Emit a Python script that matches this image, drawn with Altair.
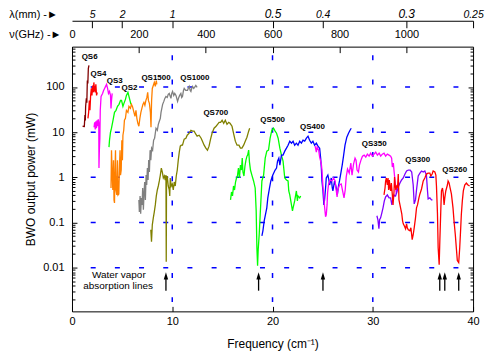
import altair as alt
import pandas as pd

FONT = "Liberation Sans"
X_MIN, X_MAX = 0, 40
Y_MIN, Y_MAX = 0.00108, 780

# ---- series (frequency cm-1, power mW) ----
QS6_X = [1.06, 1.23, 1.29, 1.33, 1.36, 1.43, 1.48, 1.53, 1.58, 1.63, 1.69]
QS6_Y = [13.5, 13.3, 24, 18, 37, 56, 45, 139, 120, 255, 300]

QS4_X = [1.59, 1.66, 1.73, 1.79, 1.86, 1.93, 1.99, 2.06, 2.13, 2.18, 2.25, 2.32, 2.38, 2.45, 2.52]
QS4_Y = [20.2, 27.4, 50, 30.4, 65, 93, 65, 108, 76, 126, 84, 76, 114, 65, 76]

QS3_X = [2.20, 2.26, 2.32, 2.38, 2.44, 2.50, 2.56, 2.62, 2.67, 2.69, 2.73, 2.78, 2.82, 2.90, 3.05,
         3.15, 3.25, 3.35, 3.45, 3.55, 3.64, 3.74, 3.84, 3.89, 3.94, 4.01]
QS3_Y = [12.8, 16.5, 11.5, 17.4, 12.2, 18.3, 13.5, 19.2, 16.5, 1.6, 3.99, 7.34, 30.4, 61.8, 71.9,
         83.7, 92.7, 103, 114, 92.7, 71.9, 79.6, 65, 33.6, 50.4, 71.9]

QS2_X = [3.69, 3.74, 3.84, 3.94, 4.09, 4.24, 4.39, 4.54, 4.69, 4.84, 4.94, 5.08, 5.18, 5.33, 5.43,
         5.58, 5.68, 5.78, 5.88]
QS2_Y = [4.65, 6.63, 9.95, 12.2, 18.3, 27.4, 30.4, 37.2, 41.2, 50.4, 50.4, 37.2, 43.3, 53.1, 65,
         75.7, 61.8, 50.4, 41.2]

QS1500_X = [3.89, 3.94, 4.01, 4.07, 4.14, 4.19, 4.24, 4.29, 4.34, 4.39, 4.47, 4.54, 4.59, 4.67, 4.74,
            4.79, 4.84, 4.91, 4.97, 5.03, 5.08, 5.16, 5.23, 5.33, 5.43, 5.58, 5.68, 5.83, 5.93, 6.03,
            6.18, 6.28, 6.38, 6.47, 6.57, 6.67, 6.77, 6.87, 6.97, 7.07, 7.17, 7.27, 7.37, 7.47, 7.55,
            7.62, 7.72, 7.82, 7.88, 7.94, 8.01, 8.11, 8.21, 8.31, 8.41, 8.46]
QS1500_Y = [0.581, 3.99, 1.12, 0.525, 2.40, 0.316, 0.272, 1.45, 3.99, 0.525, 0.407, 2.40, 0.407, 0.429, 1.87,
            3.99, 1.12, 1.45, 6.63, 2.40, 8.55, 11.0, 18.3, 20.2, 30.4, 27.4, 37.2, 33.6, 41.2, 37.2,
            27.4, 22.4, 30.4, 20.2, 15.7, 13.5, 20.2, 27.4, 33.6, 41.2, 45.6, 39.2, 50.4, 58.7, 75.7,
            50.4, 43.3, 27.4, 12.8, 50.4, 92.7, 108, 126, 103, 139, 114]

QS1000_X = [6.67, 6.72, 6.79, 6.85, 6.92, 6.99, 7.05, 7.12, 7.19, 7.25, 7.32, 7.39, 7.45, 7.52, 7.59,
            7.65, 7.72, 7.79, 7.86, 7.94, 8.04, 8.14, 8.24, 8.38, 8.51, 8.61, 8.71, 8.81, 8.88, 8.96,
            9.04, 9.16, 9.26, 9.37, 9.50, 9.60, 9.70, 9.80, 9.87, 9.95, 10.03, 10.15, 10.25, 10.37, 10.45,
            10.53, 10.65, 10.74, 10.86, 10.94, 11.02, 11.12, 11.19, 11.34, 11.52, 11.59, 11.69, 11.79,
            11.86, 11.94, 12.02, 12.14, 12.23, 12.35, 12.48]
QS1000_Y = [0.316, 0.172, 0.387, 0.156, 0.350, 0.245, 0.581, 0.191, 0.474, 0.788, 0.316, 1.12, 0.676, 1.60, 0.873,
            2.40, 1.31, 3.99, 2.40, 4.42, 3.99, 6.63, 7.34, 12.2, 11.0, 14.9, 17.4, 20.2, 27.4, 33.6,
            41.2, 47.9, 55.8, 61.8, 58.7, 68.4, 71.9, 61.8, 55.8, 71.9, 79.6, 65, 71.9, 65, 55.8,
            47.9, 58.7, 65, 71.9, 58.7, 61.8, 83.7, 92.7, 83.7, 83.7, 92.7, 103, 83.7,
            79.6, 92.7, 103, 92.7, 97.5, 108, 97.5]

QS700_X = [7.86, 7.93, 8.01, 8.11, 8.21, 8.31, 8.41, 8.51, 8.61, 8.71, 8.81, 8.91, 9.01, 9.11, 9.21,
           9.30, 9.37, 9.40, 9.43, 9.50, 9.60, 9.70, 9.75, 9.80, 9.90, 10.00, 10.10, 10.20, 10.30, 10.40,
           10.50, 10.60, 10.70, 10.80, 10.90, 11.02, 11.19, 11.36, 11.49, 11.69, 11.86, 12.02, 12.18,
           12.35, 12.48, 12.68, 12.88, 13.01, 13.18, 13.35, 13.51, 13.67, 13.82, 13.97, 14.17, 14.37,
           14.52, 14.67, 14.82, 14.97, 15.13, 15.29, 15.46, 15.63, 15.76, 15.96, 16.13, 16.29, 16.46,
           16.65, 16.80, 16.95, 17.12, 17.28, 17.45, 17.62, 17.72]
QS700_Y = [0.069, 0.0376, 0.0889, 0.127, 0.172, 0.245, 0.387, 0.525, 0.643, 0.830, 1.12, 1.60, 1.31, 0.966, 1.07,
           0.873, 1.12, 0.0136, 0.873, 1.07, 0.643, 0.525, 0.387, 0.966, 0.643, 0.712, 0.525, 0.788, 0.643, 1.07,
           1.45, 2.40, 3.61, 4.89, 5.14, 5.14, 6.98, 7.34, 8.55, 9.46, 11.0, 10.5, 10.5,
           8.99, 8.13, 8.55, 7.34, 6.31, 5.14, 4.42, 3.99, 4.89, 6.98, 9.46, 12.2, 13.5,
           14.9, 16.5, 16.5, 18.3, 15.7, 18.3, 14.9, 16.5, 15.7, 13.5, 8.99, 6.31, 5.14,
           5.14, 4.42, 4.42, 5.14, 6.31, 7.72, 10.5, 12.2]

QS500_X = [15.81, 15.91, 16.01, 16.11, 16.21, 16.31, 16.41, 16.50, 16.60, 16.70, 16.80, 16.90, 16.98, 17.05,
           17.15, 17.25, 17.35, 17.45, 17.52, 17.62, 17.70, 17.80, 17.94, 18.11, 18.27, 18.37, 18.44, 18.51,
           18.57, 18.67, 18.77, 18.87, 18.94, 19.11, 19.27, 19.43, 19.60, 19.76, 19.93, 20.10, 20.26, 20.40,
           20.56, 20.73, 20.89, 21.05, 21.22, 21.39, 21.55, 21.62, 21.72, 21.89, 21.99, 22.05, 22.21, 22.31,
           22.38, 22.48, 22.54, 22.71, 22.81]
QS500_Y = [0.316, 0.474, 0.387, 0.643, 0.525, 0.788, 0.966, 1.07, 1.60, 0.966, 1.87, 1.45, 2.66, 1.31,
           1.07, 1.77, 2.40, 2.94, 3.10, 3.99, 2.17, 1.45, 1.12, 0.830, 0.581, 0.181, 0.0277, 0.0111,
           0.0251, 0.0536, 0.148, 0.407, 0.830, 1.12, 2.66, 3.80, 3.99, 7.34, 11.0, 12.2, 10.5, 9.46,
           7.34, 4.42, 3.10, 2.29, 0.966, 0.873, 0.830, 0.499, 0.407, 0.245, 0.181, 0.211, 0.301, 0.407,
           0.499, 0.301, 0.387, 0.350, 0.387]

QS400_X = [18.94, 19.04, 19.17, 19.27, 19.43, 19.53, 19.70, 19.83, 20.03, 20.26, 20.40, 20.50, 20.63, 20.73,
           20.89, 21.05, 21.22, 21.39, 21.55, 21.72, 21.89, 22.05, 22.21, 22.38, 22.54, 22.71, 22.88, 23.04,
           23.21, 23.38, 23.54, 23.70, 23.87, 24.03, 24.20, 24.37, 24.53, 24.70, 24.80, 24.87, 24.93, 25.03,
           25.12, 25.19, 25.29, 25.36, 25.52, 25.62, 25.69, 25.86, 25.96, 26.02, 26.19, 26.36, 26.46, 26.58,
           26.68, 26.78, 26.95, 27.08, 27.23, 27.41, 27.58, 27.73, 27.85]
QS400_Y = [0.0509, 0.0656, 0.109, 0.141, 0.211, 0.350, 0.581, 0.830, 1.12, 1.45, 1.60, 2.29, 2.66, 1.87,
           3.10, 3.10, 3.80, 4.42, 5.14, 6.31, 5.70, 6.31, 5.14, 5.70, 5.14, 6.31, 5.70, 6.63,
           6.31, 7.34, 8.13, 6.63, 5.70, 6.31, 5.14, 5.70, 4.89, 4.42, 2.66, 1.60, 0.830, 0.499,
           0.245, 0.316, 0.581, 0.966, 1.12, 0.873, 0.676, 0.966, 0.581, 0.499, 0.830, 0.581, 0.407, 0.643,
           0.830, 1.12, 1.87, 2.94, 5.14, 7.72, 9.46, 11.0, 12.2]

QS350_X = [24.25, 24.37, 24.45, 24.60, 24.70, 24.87, 24.93, 25.03, 25.10, 25.19, 25.29, 25.36, 25.44, 25.49,
           25.59, 25.74, 25.92, 26.09, 26.24, 26.32, 26.44, 26.51, 26.68, 26.85, 27.01, 27.13, 27.25, 27.35,
           27.48, 27.65, 27.81, 27.93, 28.08, 28.23, 28.33, 28.43, 28.57, 28.67, 28.82, 28.97, 29.14, 29.30,
           29.46, 29.63, 29.79, 29.96, 30.13, 30.29, 30.46, 30.63, 30.79, 30.95, 31.12, 31.28, 31.45, 31.62,
           31.78, 31.88, 31.95, 32.05, 32.12, 32.22, 32.28, 32.35, 32.40]
QS350_Y = [4.89, 3.61, 4.65, 3.99, 2.80, 1.96, 1.45, 0.611, 0.429, 0.222, 0.134, 0.148, 0.245, 0.451,
           0.712, 0.873, 0.830, 0.966, 0.830, 0.581, 0.368, 0.525, 0.676, 0.712, 0.474, 0.350, 0.525, 1.02,
           1.52, 1.24, 2.07, 1.12, 1.96, 2.66, 2.40, 1.45, 1.31, 1.87, 2.40, 2.94, 3.10, 2.80,
           3.26, 2.94, 3.43, 2.94, 3.26, 3.61, 3.10, 3.43, 2.94, 3.26, 3.43, 2.94, 3.26, 3.10,
           2.94, 2.66, 1.69, 2.07, 1.38, 0.830, 0.581, 0.429, 0.581]

QS300_X = [30.41, 30.51, 30.61, 30.68, 30.78, 30.88, 31.02, 31.15, 31.28, 31.45, 31.62, 31.78, 31.90, 31.98,
           32.12, 32.27, 32.37, 32.54, 32.71, 32.87, 33.04, 33.21, 33.37, 33.54, 33.73, 33.88, 34.03, 34.13,
           34.26, 34.36, 34.53, 34.70, 34.86, 35.03, 35.19, 35.35, 35.45, 35.52, 35.69, 35.85, 35.95]
QS300_Y = [0.141, 0.115, 0.0726, 0.115, 0.127, 0.156, 0.211, 0.301, 0.368, 0.407, 0.350, 0.350, 0.245, 0.316,
           0.407, 0.387, 0.451, 0.611, 0.749, 0.873, 0.966, 1.18, 1.38, 1.45, 1.45, 1.31, 0.676, 0.258,
           0.316, 0.525, 1.07, 1.24, 1.38, 1.31, 1.38, 1.12, 0.525, 0.333, 0.350, 0.316, 0.316]

QS260_X = [31.12, 31.22, 31.28, 31.35, 31.45, 31.52, 31.58, 31.65, 31.72, 31.78, 31.85, 31.95, 32.02, 32.12,
           32.17, 32.24, 32.31, 32.39, 32.47, 32.54, 32.61, 32.71, 32.81, 32.89, 32.97, 33.04, 33.14, 33.27,
           33.37, 33.44, 33.54, 33.70, 33.80, 33.93, 34.03, 34.13, 34.26, 34.36, 34.46, 34.60, 34.70, 34.86,
           35.03, 35.19, 35.35, 35.52, 35.69, 35.79, 35.92, 36.02, 36.19, 36.29, 36.35, 36.45, 36.52, 36.62,
           36.69, 36.79, 36.85, 36.95, 37.02, 37.11, 37.18, 37.28, 37.44, 37.51, 37.61, 37.71, 37.84, 38.00,
           38.10, 38.23, 38.33, 38.43, 38.57, 38.67, 38.77, 38.83, 38.93, 39.03, 39.17, 39.33, 39.49, 39.66]
QS260_Y = [0.407, 0.581, 0.830, 0.966, 0.676, 0.966, 0.525, 0.873, 0.581, 0.499, 0.749, 0.407, 0.245, 0.499,
           1.02, 0.643, 0.525, 0.643, 0.611, 1.18, 0.316, 0.245, 0.191, 0.156, 0.109, 0.0936, 0.0845, 0.0726,
           0.0936, 0.0764, 0.0690, 0.0656, 0.0764, 0.0416, 0.0536, 0.0764, 0.127, 0.211, 0.245, 0.350, 0.429, 0.552,
           0.830, 0.966, 1.18, 1.24, 1.24, 1.07, 1.18, 1.38, 1.31, 1.12, 0.643, 0.156, 0.0277, 0.0117,
           0.0416, 0.211, 0.499, 0.581, 0.451, 0.245, 0.350, 0.499, 0.676, 0.830, 0.749, 0.581, 0.429, 0.211,
           0.109, 0.0536, 0.0277, 0.0144, 0.0130, 0.0277, 0.0764, 0.148, 0.301, 0.499, 0.676, 0.749, 0.676, 0.643]

SERIES = ["QS6", "QS4", "QS3", "QS2", "QS1500", "QS1000", "QS700", "QS500", "QS400", "QS350", "QS300", "QS260"]
COLORS = ["#800000", "#FF0000", "#FF00FF", "#00FF00", "#FF8000", "#808080", "#808000", "#00FF00",
          "#0000FF", "#FF00FF", "#8000FF", "#FF0000"]
SERIES_X = [QS6_X, QS4_X, QS3_X, QS2_X, QS1500_X, QS1000_X, QS700_X, QS500_X, QS400_X, QS350_X, QS300_X, QS260_X]
SERIES_Y = [QS6_Y, QS4_Y, QS3_Y, QS2_Y, QS1500_Y, QS1000_Y, QS700_Y, QS500_Y, QS400_Y, QS350_Y, QS300_Y, QS260_Y]

# ---- annotations ----
LABEL_TEXT = ["QS6", "QS4", "QS3", "QS2", "QS1500", "QS1000", "QS700", "QS500", "QS400", "QS350", "QS300", "QS260"]
LABEL_X = [1.76, 2.65, 4.27, 5.73, 8.38, 12.25, 14.34, 20.01, 23.98, 30.14, 34.48, 38.17]
LABEL_Y = [462, 198, 137, 92.7, 160, 154, 27, 19, 13, 5.4, 2.4, 1.45]

WV_TEXT = ["Water vapor", "absorption lines"]
WV_X = [4.67, 4.6]
WV_Y = [0.0068, 0.0039]

ARROW_X = [9.37, 18.61, 25.03, 36.68, 37.18, 38.57]
ARROW_BOTTOM = 0.0031
ARROW_HEAD = 0.00647

# ---- axes ----
GRID_X = [10, 20, 30]
GRID_Y = [0.01, 0.1, 1, 10, 100]
X_TICKS = [0, 10, 20, 30, 40]
Y_TICKS = [0.01, 0.1, 1, 10, 100]
Y_MINOR = [m * 10.0 ** e for e in range(-3, 3) for m in range(2, 10) if Y_MIN <= m * 10.0 ** e <= Y_MAX]
NU_GHZ = [0, 200, 400, 600, 800, 1000, 1200]
LAMBDA_MM = [5, 2, 1, 0.5, 0.4, 0.3, 0.25]
GHZ_PER_CM = 29.9792458
NU_POS = [v / GHZ_PER_CM for v in NU_GHZ]
LAM_POS = [10.0 / v for v in LAMBDA_MM]

rows = []
for name, xs, ys in zip(SERIES, SERIES_X, SERIES_Y):
    for i, (xv, yv) in enumerate(zip(xs, ys)):
        rows.append({"series": name, "x": xv, "y": yv, "i": i})
df = pd.DataFrame(rows)

XS = alt.Scale(domain=[X_MIN, X_MAX], nice=False, zero=False)
YS = alt.Scale(type="log", domain=[Y_MIN, Y_MAX], nice=False)
GRID_BLUE = "#0000FF"

grid_x = alt.Chart(pd.DataFrame({"x": GRID_X})).mark_rule(
    color=GRID_BLUE, strokeWidth=1.5, strokeDash=[5, 19.3], strokeDashOffset=15.6
).encode(
    x=alt.X("x:Q", scale=XS, axis=alt.Axis(
        orient="bottom", values=X_TICKS, format="d", offset=-5, tickSize=5, domain=False,
        labelPadding=4, title="Frequency (cm⁻¹)", titlePadding=12))
)

grid_y = alt.Chart(pd.DataFrame({"y": GRID_Y})).mark_rule(
    color=GRID_BLUE, strokeWidth=1.5, strokeDash=[5, 19.3], strokeDashOffset=9.6
).encode(
    y=alt.Y("y:Q", scale=YS, axis=alt.Axis(
        orient="left", values=Y_TICKS, format="~g", offset=-5, tickSize=5, domain=False,
        labelPadding=8, title="BWO output power (mW)", titlePadding=5))
)

def y_ticks_layer(vals, orient, size):
    return alt.Chart(pd.DataFrame({"y": vals})).mark_tick(opacity=0).encode(
        y=alt.Y("y:Q", scale=YS, axis=alt.Axis(
            orient=orient, values=vals, labels=False, offset=-size, tickSize=size,
            domain=False, title=None))
    )

yl_minor = y_ticks_layer(Y_MINOR, "left", 3)
yr_major = y_ticks_layer(Y_TICKS, "right", 5)
yr_minor = y_ticks_layer(Y_MINOR, "right", 3)

nu_axis = alt.Chart(pd.DataFrame({"x": NU_POS})).mark_tick(opacity=0).encode(
    x=alt.X("x:Q", scale=XS, axis=alt.Axis(
        orient="top", values=NU_POS,
        labelExpr=f"format(round(datum.value * {GHZ_PER_CM}), 'd')",
        offset=-6, tickSize=6, domain=False, labelPadding=7,
        title="ν(GHz) -►", titleFontSize=11, titleAngle=0, titleAlign="left", titleBaseline="middle",
        titleX=-63.5, titleY=-18))
)

lam_axis = alt.Chart(pd.DataFrame({"x": LAM_POS})).mark_tick(opacity=0).encode(
    x=alt.X("x:Q", scale=XS, axis=alt.Axis(
        orient="top", values=LAM_POS,
        labelExpr="format(10 / datum.value, '~g')",
        labelFontStyle="italic",
        labelFontSize={"condition": {"test": "abs(datum.value - 20) < 0.01 || abs(datum.value - 33.3333) < 0.01",
                                     "value": 12}, "value": 10.5},
        labelBaseline="alphabetic",
        offset=19, tickSize=7, domain=False, labelPadding=3,
        title="λ(mm) -►", titleFontSize=11, titleAngle=0, titleAlign="left", titleBaseline="middle",
        titleX=-63.5, titleY=-13.5))
)

lam_line = alt.Chart(pd.DataFrame({"x": LAM_POS})).mark_tick(opacity=0).encode(
    x=alt.X("x:Q", scale=XS, axis=alt.Axis(
        orient="top", offset=26, ticks=False, labels=False, domain=True, title=None))
)

lines = alt.Chart(df).mark_line(strokeWidth=1.3, clip=True).encode(
    x=alt.X("x:Q", scale=XS, axis=None),
    y=alt.Y("y:Q", scale=YS, axis=None),
    color=alt.Color("series:N", scale=alt.Scale(domain=SERIES, range=COLORS), legend=None),
    detail="series:N",
    order="i:Q",
)

labels = alt.Chart(pd.DataFrame({"t": LABEL_TEXT, "x": LABEL_X, "y": LABEL_Y})).mark_text(
    font=FONT, fontSize=8, fontWeight="bold", color="black"
).encode(
    x=alt.X("x:Q", scale=XS, axis=None), y=alt.Y("y:Q", scale=YS, axis=None), text="t:N"
)

wv = alt.Chart(pd.DataFrame({"t": WV_TEXT, "x": WV_X, "y": WV_Y})).mark_text(
    font=FONT, fontSize=10, color="black"
).encode(
    x=alt.X("x:Q", scale=XS, axis=None), y=alt.Y("y:Q", scale=YS, axis=None), text="t:N"
)

arrow_df = pd.DataFrame({"x": ARROW_X, "y0": [ARROW_BOTTOM] * len(ARROW_X), "y1": [ARROW_HEAD] * len(ARROW_X)})
arrow_rules = alt.Chart(arrow_df).mark_rule(color="black", strokeWidth=1.3).encode(
    x=alt.X("x:Q", scale=XS, axis=None), y=alt.Y("y0:Q", scale=YS, axis=None), y2="y1:Q"
)
arrow_heads = alt.Chart(arrow_df).mark_point(
    shape="M0,-1L0.55,0.8L-0.55,0.8Z", filled=True, color="black", opacity=1, size=64
).encode(
    x=alt.X("x:Q", scale=XS, axis=None), y=alt.Y("y1:Q", scale=YS, axis=None)
)

chart = alt.layer(
    grid_x, grid_y, yl_minor, yr_major, yr_minor, nu_axis, lam_axis, lam_line,
    lines, labels, wv, arrow_rules, arrow_heads
).resolve_axis(x="independent", y="independent").properties(
    width=403, height=266,
    autosize=alt.AutoSizeParams(type="none"),
    padding={"left": 64.3, "top": 38, "right": 12, "bottom": 40},
    background="white",
).configure_view(stroke="black", strokeWidth=1).configure_axis(
    labelFont=FONT, titleFont=FONT, labelFontSize=11, titleFontSize=12, titleFontWeight="normal",
    labelColor="black", titleColor="black", tickColor="black", domainColor="black",
    grid=False, labelFlush=False, labelOverlap=False, tickWidth=1, domainWidth=1,
)

chart.save("out.html", embed_options={"renderer": "svg", "actions": False})
